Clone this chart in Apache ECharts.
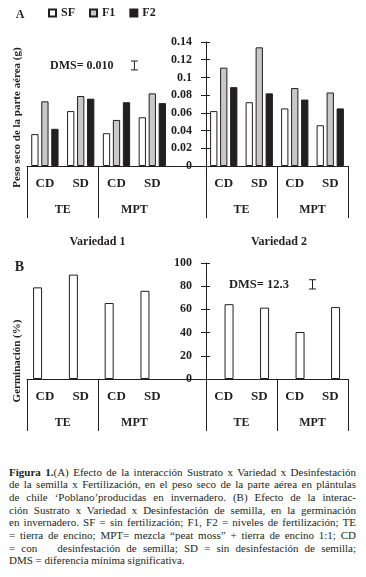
<!DOCTYPE html>
<html>
<head>
<meta charset="utf-8">
<script src="https://cdn.jsdelivr.net/npm/echarts@6/dist/echarts.min.js"></script>
<style>
html, body { margin: 0; padding: 0; background: #fff; }
#chart { position: absolute; left: 0; top: 0; width: 366px; height: 445px; }
#caption { position: absolute; left: 9px; top: 465.5px; width: 347px; font-family: 'Liberation Serif', serif; font-size: 11px; line-height: 12.7px; color: #231f20; }
#caption div { white-space: nowrap; }
#caption b { font-weight: bold; }
#caption i.gap { display: inline-block; width: 20px; }
</style>
</head>
<body>
<div id="chart"></div>
<div id="caption">
  <div><span><b>Figura 1.</b>(A) Efecto de la interacción Sustrato x Variedad x Desinfestación</span></div>
  <div><span>de la semilla x Fertilización, en el peso seco de la parte aérea en plántulas</span></div>
  <div><span>de chile ‘Poblano’producidas en invernadero. (B) Efecto de la interac-</span></div>
  <div><span>ción Sustrato x Variedad x Desinfestación de semilla, en la germinación</span></div>
  <div><span>en invernadero. SF = sin fertilización; F1, F2 = niveles de fertilización; TE</span></div>
  <div><span>= tierra de encino; MPT= mezcla “peat moss” + tierra de encino 1:1; CD</span></div>
  <div><span>= con<i class="gap"></i>desinfestación de semilla; SD = sin desinfestación de semilla;</span></div>
  <div class="last"><span>DMS = diferencia mínima significativa.</span></div>
</div>
<script>
// categorias
const subCats = ['CD', 'SD', 'CD', 'SD'];
const mainCats = ['TE', 'MPT'];
const fertNames = ['SF', 'F1', 'F2'];

// (A) peso seco parte aerea (g) -> CD-TE, SD-TE, CD-MPT, SD-MPT
const v1SF = [0.036, 0.062, 0.037, 0.055];
const v1F1 = [0.073, 0.079, 0.052, 0.082];
const v1F2 = [0.042, 0.076, 0.072, 0.071];
const v2SF = [0.062, 0.072, 0.065, 0.046];
const v2F1 = [0.111, 0.134, 0.088, 0.083];
const v2F2 = [0.089, 0.082, 0.075, 0.065];

// (B) germinacion (%)
const germV1 = [79, 90, 65.5, 76];
const germV2 = [64.5, 61.5, 40.5, 62];

// ejes
const pesoMax = 0.14, pesoStep = 0.02;
const germMax = 100, germStep = 20;

// DMS
const dmsA = '0.010';
const dmsB = '12.3';
const dmsBarA = [0.1085, 0.1185];
const dmsBarB = [77.6, 85.6];

const ink = '#231f20';
const serif = "'Liberation Serif', 'DejaVu Serif', serif";
const fertColors = ['#ffffff', '#c8c8c8', '#231f20'];

const chart = echarts.init(document.getElementById('chart'));

const grids = [
  { left: 27, top: 42, width: 179, height: 124 },
  { left: 206, top: 42, width: 142, height: 124 },
  { left: 27, top: 263, width: 179, height: 116 },
  { left: 206, top: 263, width: 142, height: 116 }
];

const boldText = (size) => ({ color: ink, fontFamily: serif, fontWeight: 'bold', fontSize: size });

// 3 ejes x por grid: CD/SD, TE/MPT, marcas cortas hacia arriba
const xAxesFor = (grid, nBands) => {
  const cats = nBands === 5 ? subCats.concat(['']) : subCats;
  const pts = new Array(nBands * 2 + 1).fill('');
  pts[2] = mainCats[0];
  pts[6] = mainCats[1];
  const lastTick = nBands === 4 ? 8 : -1;
  return [
    {
      gridIndex: grid, type: 'category', data: cats, position: 'bottom',
      axisLine: { onZero: false, lineStyle: { color: ink, width: 1 } },
      axisTick: { length: 27, interval: 0, lineStyle: { color: ink } },
      axisLabel: { interval: 0, margin: 11.5, ...boldText(13) }
    },
    {
      gridIndex: grid, type: 'category', data: pts, boundaryGap: false, position: 'bottom',
      axisLine: { show: false, onZero: false },
      axisTick: { length: 52, interval: (i) => i === 0 || i === 4 || i === lastTick, lineStyle: { color: ink } },
      axisLabel: { interval: (i) => i === 2 || i === 6, margin: 38, ...boldText(12) }
    },
    {
      gridIndex: grid, type: 'category', data: cats, position: 'bottom',
      axisLine: { show: false, onZero: false },
      axisTick: { inside: true, length: 3, interval: 0, lineStyle: { color: ink } },
      axisLabel: { show: false }
    }
  ];
};

const yAxesFor = (grid, max, step, visible) => {
  const base = { gridIndex: grid, type: 'value', min: 0, max: max, interval: step, position: 'left', splitLine: { show: false } };
  if (!visible) return [{ ...base, show: false }];
  return [
    {
      ...base,
      axisLine: { show: true, onZero: false, lineStyle: { color: ink } },
      axisTick: { show: true, length: 5, lineStyle: { color: ink } },
      axisLabel: { margin: 14, ...boldText(12) }
    },
    {
      ...base,
      axisLine: { show: false, onZero: false },
      axisTick: { show: true, inside: true, length: 4, lineStyle: { color: ink } },
      axisLabel: { show: false }
    }
  ];
};

const xAxis = [].concat(xAxesFor(0, 5), xAxesFor(1, 4), xAxesFor(2, 5), xAxesFor(3, 4));
// y: grid0 ->0, grid1 ->1,2, grid2 ->3, grid3 ->4,5
const yAxis = [].concat(
  yAxesFor(0, pesoMax, pesoStep, false),
  yAxesFor(1, pesoMax, pesoStep, true),
  yAxesFor(2, germMax, germStep, false),
  yAxesFor(3, germMax, germStep, true)
);

const fertBars = (xi, yi, arrs) => arrs.map((d, k) => ({
  name: fertNames[k],
  type: 'bar',
  xAxisIndex: xi,
  yAxisIndex: yi,
  data: d,
  barWidth: 7.3,
  barGap: '37%',
  itemStyle: { color: fertColors[k], borderColor: ink, borderWidth: 1 },
  emphasis: { disabled: true },
  silent: true
}));

const germBar = (name, xi, yi, data, gap) => ({
  name: name,
  type: 'bar',
  xAxisIndex: xi,
  yAxisIndex: yi,
  data: data,
  barWidth: 9,
  barGap: gap,
  itemStyle: { color: '#fff', borderColor: ink, borderWidth: 1 },
  emphasis: { disabled: true },
  silent: true
});

const dmsRender = (params, api) => {
  const lo = api.coord([api.value(0), api.value(1)]);
  const hi = api.coord([api.value(0), api.value(2)]);
  const st = { stroke: ink, lineWidth: 1 };
  return {
    type: 'group',
    children: [
      { type: 'line', shape: { x1: lo[0], y1: lo[1], x2: hi[0], y2: hi[1] }, style: st },
      { type: 'line', shape: { x1: lo[0] - 3.5, y1: lo[1], x2: lo[0] + 3.5, y2: lo[1] }, style: st },
      { type: 'line', shape: { x1: hi[0] - 3.5, y1: hi[1], x2: hi[0] + 3.5, y2: hi[1] }, style: st }
    ]
  };
};

const series = [].concat(
  fertBars(0, 0, [v1SF, v1F1, v1F2]),
  fertBars(3, 1, [v2SF, v2F1, v2F2]),
  [
    germBar('germ1', 6, 3, germV1, '63%'),
    germBar('hueco1', 6, 3, [], '63%'),
    germBar('hueco2', 9, 4, [], '18%'),
    germBar('germ2', 9, 4, germV2, '18%'),
    { type: 'custom', xAxisIndex: 1, yAxisIndex: 0, data: [[6, dmsBarA[0], dmsBarA[1]]], renderItem: dmsRender, silent: true },
    { type: 'custom', xAxisIndex: 10, yAxisIndex: 4, data: [[6, dmsBarB[0], dmsBarB[1]]], renderItem: dmsRender, silent: true }
  ]
);

const txt = (text, x, y, size, align, rot) => ({
  type: 'text', x: x, y: y, rotation: rot || 0, silent: true,
  style: { text: text, fill: ink, font: 'bold ' + size + 'px ' + serif, textAlign: align || 'left', textVerticalAlign: 'middle' }
});

const option = {
  animation: false,
  backgroundColor: '#fff',
  grid: grids,
  xAxis: xAxis,
  yAxis: yAxis,
  legend: {
    data: fertNames, left: 43, top: 2, icon: 'rect', itemWidth: 7, itemHeight: 7, itemGap: 14,
    selectedMode: false, textStyle: boldText(12)
  },
  graphic: [
    txt('A', 20, 15, 12, 'center'),
    txt('B', 19.5, 267, 14, 'center'),
    txt('Variedad 1', 97.5, 241.5, 12, 'center'),
    txt('Variedad 2', 279, 241.5, 12, 'center'),
    txt('DMS= ' + dmsA, 50, 65.5, 12, 'left'),
    txt('DMS= ' + dmsB, 229, 285, 12.5, 'left'),
    txt('Peso seco de la parte aérea (g)', 17, 117.5, 11, 'center', Math.PI / 2),
    txt('Germinación (%)', 17, 361, 11, 'center', Math.PI / 2)
  ],
  series: series
};
chart.setOption(option);

// pie de figura justificado a mano
const boxW = 347;
document.querySelectorAll('#caption div').forEach((row) => {
  const span = row.querySelector('span');
  const natural = span.getBoundingClientRect().width;
  if (natural > boxW) {
    const chars = span.textContent.length;
    span.style.letterSpacing = ((boxW - natural) / chars) + 'px';
  } else if (!row.classList.contains('last')) {
    const gaps = (span.textContent.match(/ /g) || []).length;
    if (gaps) span.style.wordSpacing = ((boxW - natural) / gaps) + 'px';
  }
});
</script>
</body>
</html>
